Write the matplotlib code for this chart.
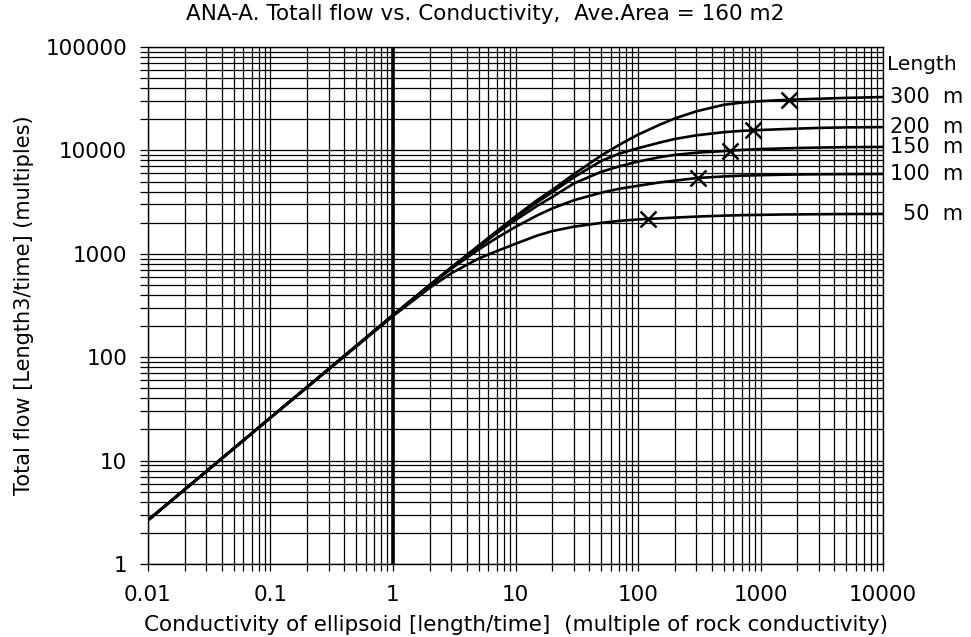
import numpy as np
import matplotlib.pyplot as plt
from matplotlib.ticker import LogLocator, NullFormatter, FixedLocator
import matplotlib.transforms as mtransforms

# conductivity (multiples of rock conductivity)
cond = [0.01, 0.1, 1, 2, 3, 5, 7, 10, 15, 20, 30, 50, 70, 100, 150, 200,
        300, 500, 700, 1000, 1500, 2000, 3000, 5000, 10000]

# total flow for each ellipsoid length
flow_300 = [2.65, 26, 255, 500, 740, 1200, 1650, 2300, 3300, 4150, 5900, 8900, 11300, 14200, 17700,
            20400, 23900, 27600, 29000, 29950, 30700, 31100, 31600, 32200, 32800]
flow_200 = [2.65, 26, 255, 500, 740, 1190, 1630, 2250, 3150, 3950, 5500, 7900, 9300, 10500, 11900,
            12900, 14000, 15000, 15450, 15750, 16050, 16250, 16500, 16700, 16800]
flow_150 = [2.65, 26, 255, 500, 735, 1160, 1580, 2120, 2900, 3550, 4800, 6200, 7000, 7800, 8600,
            9050, 9500, 9850, 10100, 10300, 10450, 10550, 10650, 10750, 10800]
flow_100 = [2.65, 26, 255, 495, 720, 1100, 1420, 1820, 2350, 2750, 3300, 3900, 4250, 4550, 4900,
            5100, 5400, 5600, 5700, 5760, 5820, 5850, 5880, 5900, 5920]
flow_50 = [2.65, 26, 250, 470, 650, 900, 1060, 1250, 1500, 1660, 1830, 1990, 2080, 2150, 2200,
           2240, 2290, 2340, 2365, 2380, 2400, 2405, 2415, 2425, 2430]

lengths = ["300 m", "200 m", "150 m", "100 m", "50 m"]
curves = [flow_300, flow_200, flow_150, flow_100, flow_50]

# points marked with a cross on each curve
mark_x = [1700, 870, 560, 310, 120]
mark_y = [30850, 15600, 9950, 5420, 2180]

plt.rcParams['font.family'] = 'DejaVu Sans'

fig = plt.figure(figsize=(9.71, 6.37), dpi=100)
ax = fig.add_axes([0.1524, 0.1146, 0.757, 0.8116])

for q in curves:
    ax.plot(cond, q, color="black", lw=1.9, solid_joinstyle="round")
ax.plot(mark_x, mark_y, "x", color="black", ms=11, mew=1.8)

ax.set_xscale("log")
ax.set_yscale("log")
ax.set_xlim(0.01, 10000)
ax.set_ylim(1, 100000)

ax.xaxis.set_major_locator(FixedLocator([0.01, 0.1, 1, 10, 100, 1000, 10000]))
ax.yaxis.set_major_locator(FixedLocator([1, 10, 100, 1000, 10000, 100000]))
ax.set_xticklabels(["0.01", "0.1", "1", "10", "100", "1000", "10000"])
ax.set_yticklabels(["1", "10", "100", "1000", "10000", "100000"])
ax.xaxis.set_minor_locator(LogLocator(base=10, subs=np.arange(2, 10), numticks=20))
ax.yaxis.set_minor_locator(LogLocator(base=10, subs=np.arange(2, 10), numticks=20))
ax.xaxis.set_minor_formatter(NullFormatter())
ax.yaxis.set_minor_formatter(NullFormatter())

ax.grid(which="both", color="black", lw=0.9)
ax.axvline(1, color="black", lw=2.6)

ax.tick_params(axis="y", which="both", direction="out", length=6, width=0.9, pad=9, labelsize=15.5)
ax.tick_params(axis="x", which="both", direction="out", length=5, width=0.9, pad=10, labelsize=15.5)
for s in ax.spines.values():
    s.set_linewidth(1.0)

ax.set_xlabel("Conductivity of ellipsoid [length/time]  (multiple of rock conductivity)",
              fontsize=15.5, labelpad=7)
ax.set_ylabel("Total flow [Length3/time] (multiples)", fontsize=15, labelpad=8)
fig.text(0.5, 0.978, "ANA-A. Totall flow vs. Conductivity,  Ave.Area = 160 m2",
         ha="center", va="center", fontsize=15.5)

# curve names at the right-hand edge
trans = mtransforms.blended_transform_factory(fig.transFigure, ax.transData)
ax.text(0.914, 67000, "Length", transform=trans, ha="left", va="center", fontsize=14.5, clip_on=False)
for name, q in zip(lengths, curves):
    ax.text(0.992, q[-1], name.replace(" ", "  "), transform=trans, ha="right", va="center",
            fontsize=15, clip_on=False)

fig.savefig("out.png", dpi=100)
